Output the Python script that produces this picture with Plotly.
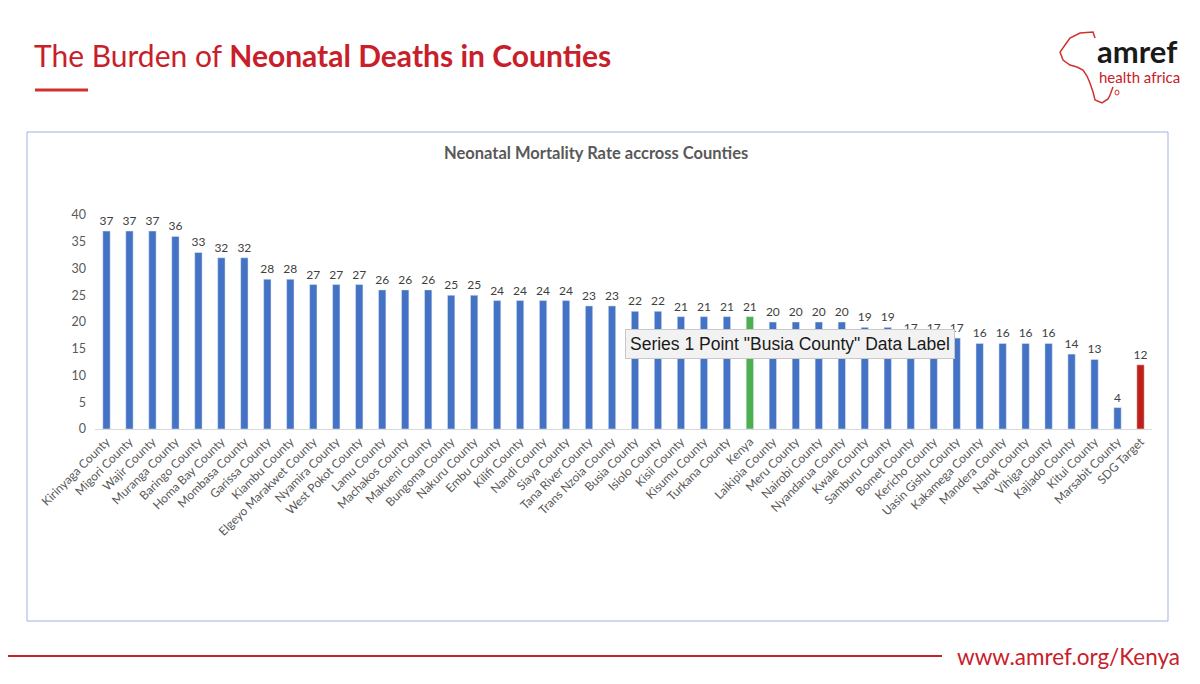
import plotly.graph_objects as go

counties = [
    "Kirinyaga County", "Migori County", "Wajir County", "Muranga County", "Baringo County",
    "Homa Bay County", "Mombasa County", "Garissa County", "Kiambu County", "Elgeyo Marakwet County",
    "Nyamira County", "West Pokot County", "Lamu County", "Machakos County", "Makueni County",
    "Bungoma County", "Nakuru County", "Embu County", "Kilifi County", "Nandi County",
    "Siaya County", "Tana River County", "Trans Nzoia County", "Busia County", "Isiolo County",
    "Kisii County", "Kisumu County", "Turkana County", "Kenya", "Laikipia County",
    "Meru County", "Nairobi County", "Nyandarua County", "Kwale County", "Samburu County",
    "Bomet County", "Kericho County", "Uasin Gishu County", "Kakamega County", "Mandera County",
    "Narok County", "Vihiga County", "Kajiado County", "Kitui County", "Marsabit County",
    "SDG Target",
]
nmr = [37, 37, 37, 36, 33, 32, 32, 28, 28, 27, 27, 27, 26, 26, 26, 25, 25, 24, 24, 24,
       24, 23, 23, 22, 22, 21, 21, 21, 21, 20, 20, 20, 20, 19, 19, 17, 17, 17, 16, 16,
       16, 16, 14, 13, 4, 12]
y_ticks = [0, 5, 10, 15, 20, 25, 30, 35, 40]

BLUE, GREEN, RED = "#4472C4", "#4CAF50", "#C0201A"
colors = [GREEN if c == "Kenya" else RED if c == "SDG Target" else BLUE for c in counties]

OFF = 8  # page body margin offset
W, H = 1200 - OFF, 684 - OFF
# plot area in reference-screen pixels
L, R, T, B = 95, 1152, 215, 429
Lf, Rf, Tf, Bf = L - OFF, R - OFF, T - OFF, B - OFF


def px(x):
    return (x - L) / (R - L)


def py(y):
    return (B - y) / (B - T)


fig = go.Figure(go.Bar(
    x=counties, y=nmr, marker_color=colors, width=0.32,
    text=[str(v) for v in nmr], textposition="outside", constraintext="none",
    textfont=dict(family="Lato, Open Sans, sans-serif", size=12, color="#404040"),
    cliponaxis=False, showlegend=False,
))

fig.update_layout(
    width=W, height=H,
    margin=dict(l=Lf, r=W - Rf, t=Tf, b=H - Bf, pad=0, autoexpand=False),
    paper_bgcolor="white", plot_bgcolor="white",
    font=dict(family="Lato, Open Sans, sans-serif", color="#595959"),
    xaxis=dict(
        range=[-0.5, len(counties) - 0.5], automargin=False,
        tickangle=-45, tickfont=dict(size=12, color="#595959"),
        showline=True, linecolor="#d9d9d9", linewidth=1, showgrid=False,
        ticks="", ticklen=0,
    ),
    yaxis=dict(
        range=[0, 40], tickvals=y_ticks, showgrid=False, zeroline=False, automargin=False,
        showline=False, tickfont=dict(size=12.5, color="#595959"), ticks="",
        ticklabelstandoff=8,
    ),
)

shapes = [
    dict(type="line", xref="paper", yref="paper", x0=px(0), x1=px(1200), y0=py(1.5), y1=py(1.5),
         line=dict(color="#d8d8d8", width=2)),
    dict(type="line", xref="paper", yref="paper", x0=px(35), x1=px(88), y0=py(90), y1=py(90),
         line=dict(color="#D0312D", width=3)),
    dict(type="rect", xref="paper", yref="paper", x0=px(27), x1=px(1168), y0=py(132), y1=py(621),
         line=dict(color="#9FB3E0", width=1), layer="below"),
    dict(type="line", xref="paper", yref="paper", x0=px(0), x1=px(942), y0=py(656), y1=py(656),
         line=dict(color="#C8202A", width=2)),
]

africa_pts = [(1095, 38), (1093, 32), (1080, 33), (1070, 38), (1065, 45), (1060, 52), (1063, 60),
              (1070, 65), (1077, 67), (1083, 70), (1087, 76), (1090, 83), (1093, 92), (1095, 100),
              (1102, 103), (1108, 99), (1110, 95), (1113, 87)]
path = "M " + " L ".join(f"{px(x):.4f},{py(y):.4f}" for x, y in africa_pts)
shapes.append(dict(type="path", xref="paper", yref="paper", path=path,
                   line=dict(color="#D0312D", width=1.5)))
shapes.append(dict(type="circle", xref="paper", yref="paper",
                   x0=px(1115), x1=px(1119), y0=py(90), y1=py(95),
                   line=dict(color="#D0312D", width=1)))
fig.update_layout(shapes=shapes)


def note(text, x, y, xanchor, size, color, family="Lato, sans-serif", **kw):
    return dict(text=text, x=px(x), y=py(y), xref="paper", yref="paper",
                xanchor=xanchor, yanchor="middle", showarrow=False,
                font=dict(family=family, size=size, color=color), **kw)


annotations = [
    note("The Burden of <b>Neonatal Deaths in Counties</b>", 32, 55, "left", 30, "#C8202A"),
    note("<b>Neonatal Mortality Rate accross Counties</b>", 596, 153, "center", 16.5, "#595959"),
    note("<b>amref</b>", 1095, 51, "left", 31, "#1a1a1a"),
    note("health africa", 1097, 77, "left", 15, "#C8202A"),
    note("www.amref.org/Kenya", 1182, 656, "right", 22.5, "#C8202A"),
    note('Series 1 Point "Busia County" Data Label', 790, 344, "center", 17.5, "#1a1a1a",
         family="Liberation Sans, Arial, sans-serif",
         bgcolor="#f2f2f2", bordercolor="#c8c8c8", borderwidth=1, borderpad=4),
]
fig.update_layout(annotations=annotations)

fig.write_html("out.html")
